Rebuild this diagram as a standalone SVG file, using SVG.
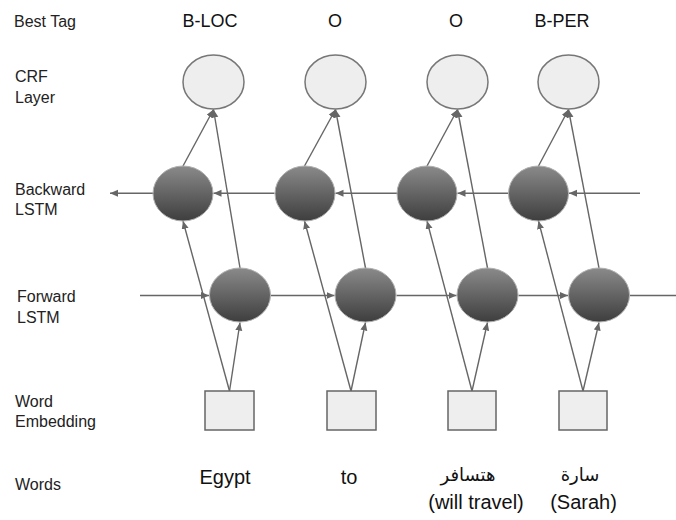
<svg xmlns="http://www.w3.org/2000/svg" width="676" height="520" viewBox="0 0 676 520">
<defs>
<linearGradient id="dark" x1="0" y1="0" x2="0" y2="1">
<stop offset="0" stop-color="#8a8a8a"/>
<stop offset="1" stop-color="#3e3e3e"/>
</linearGradient>
<marker id="ah" markerUnits="userSpaceOnUse" markerWidth="9" markerHeight="8" refX="8" refY="3.5" orient="auto">
<path d="M0,0 L8,3.5 L0,7 z" fill="#666"/>
</marker>
</defs>
<style>
.lbl{font-family:"Liberation Sans",Arial,sans-serif;font-size:16px;fill:#222}
.tag{font-family:"Liberation Sans",Arial,sans-serif;font-size:18px;fill:#111;text-anchor:middle}
.word{font-family:"Liberation Sans","DejaVu Sans",Arial,sans-serif;font-size:20px;fill:#111;text-anchor:middle}
.ar{font-size:18px}
.crf{fill:#eeeeee;stroke:#777;stroke-width:1.5}
.lstm{fill:url(#dark);stroke:#b0b0b0;stroke-width:1}
.emb{fill:#eeeeee;stroke:#666;stroke-width:1.5}
.c line{stroke:#666;stroke-width:1.4}
.c line.a{marker-end:url(#ah)}
</style>
<rect width="676" height="520" fill="#fff"/>

<g id="labels">
<text class="lbl" x="14" y="27">Best Tag</text>
<text class="lbl" x="15" y="82">CRF</text>
<text class="lbl" x="15" y="103">Layer</text>
<text class="lbl" x="15" y="195">Backward</text>
<text class="lbl" x="15" y="215">LSTM</text>
<text class="lbl" x="17" y="302">Forward</text>
<text class="lbl" x="17" y="323">LSTM</text>
<text class="lbl" x="15" y="407">Word</text>
<text class="lbl" x="15" y="427">Embedding</text>
<text class="lbl" x="15" y="490">Words</text>
</g>

<g id="tags">
<text class="tag" x="210" y="27">B-LOC</text>
<text class="tag" x="335" y="27">O</text>
<text class="tag" x="456" y="27">O</text>
<text class="tag" x="562" y="27">B-PER</text>
</g>

<g id="words">
<text class="word" x="225" y="484">Egypt</text>
<text class="word" x="349" y="484">to</text>
<text class="word ar" x="468" y="481" direction="rtl">هتسافر</text>
<text class="word" x="476" y="509">(will travel)</text>
<text class="word ar" x="580" y="481" direction="rtl">سارة</text>
<text class="word" x="583.5" y="509">(Sarah)</text>
</g>

<g class="c" id="connectors">
<line class="a" x1="640" y1="193.3" x2="569" y2="193.3"/>
<line class="a" x1="508" y1="193.3" x2="457.5" y2="193.3"/>
<line class="a" x1="397" y1="193.3" x2="335.5" y2="193.3"/>
<line class="a" x1="274.5" y1="193.3" x2="213.5" y2="193.3"/>
<line class="a" x1="153" y1="193.3" x2="110" y2="193.3"/>
<line class="a" x1="140" y1="295.5" x2="209" y2="295.5"/>
<line class="a" x1="271" y1="295.5" x2="334.5" y2="295.5"/>
<line class="a" x1="396.5" y1="295.5" x2="456.5" y2="295.5"/>
<line class="a" x1="518.5" y1="295.5" x2="568" y2="295.5"/>
<line x1="630" y1="295.5" x2="676" y2="295.5"/>
<line class="a" x1="183" y1="166" x2="213.5" y2="109.5"/>
<line class="a" x1="240" y1="268" x2="213.5" y2="109.5"/>
<line class="a" x1="229.5" y1="391" x2="240" y2="322.5"/>
<line class="a" x1="229.5" y1="391" x2="183" y2="221"/>
<line class="a" x1="304.5" y1="166" x2="335.5" y2="109.5"/>
<line class="a" x1="365.5" y1="268" x2="335.5" y2="109.5"/>
<line class="a" x1="351" y1="391" x2="365.5" y2="322.5"/>
<line class="a" x1="351" y1="391" x2="304.5" y2="221"/>
<line class="a" x1="427" y1="166" x2="457.5" y2="109.5"/>
<line class="a" x1="487.5" y1="268" x2="457.5" y2="109.5"/>
<line class="a" x1="472" y1="391" x2="487.5" y2="322.5"/>
<line class="a" x1="472" y1="391" x2="427" y2="221"/>
<line class="a" x1="538.5" y1="166" x2="568.5" y2="109.5"/>
<line class="a" x1="599" y1="268" x2="568.5" y2="109.5"/>
<line class="a" x1="583" y1="391" x2="599" y2="322.5"/>
<line class="a" x1="583" y1="391" x2="538.5" y2="221"/>
</g>

<g id="crf1"><ellipse class="crf" cx="213.5" cy="82" rx="30.5" ry="27"/></g>
<g id="crf2"><ellipse class="crf" cx="335.5" cy="82" rx="30.5" ry="27"/></g>
<g id="crf3"><ellipse class="crf" cx="457.5" cy="82" rx="30.5" ry="27"/></g>
<g id="crf4"><ellipse class="crf" cx="568.5" cy="82" rx="30.5" ry="27"/></g>

<g id="bw1"><ellipse class="lstm" cx="183" cy="193.5" rx="30" ry="27.5"/></g>
<g id="bw2"><ellipse class="lstm" cx="305" cy="193.5" rx="30" ry="27.5"/></g>
<g id="bw3"><ellipse class="lstm" cx="427" cy="193.5" rx="30" ry="27.5"/></g>
<g id="bw4"><ellipse class="lstm" cx="538.5" cy="193.5" rx="30" ry="27.5"/></g>

<g id="fw1"><ellipse class="lstm" cx="240" cy="295" rx="30.5" ry="27"/></g>
<g id="fw2"><ellipse class="lstm" cx="365.5" cy="295" rx="30.5" ry="27"/></g>
<g id="fw3"><ellipse class="lstm" cx="487.5" cy="295" rx="30.5" ry="27"/></g>
<g id="fw4"><ellipse class="lstm" cx="599" cy="295" rx="30.5" ry="27"/></g>

<g id="emb1"><rect class="emb" x="205" y="391" width="49" height="39"/></g>
<g id="emb2"><rect class="emb" x="327" y="391" width="49" height="39"/></g>
<g id="emb3"><rect class="emb" x="448" y="391" width="48" height="39"/></g>
<g id="emb4"><rect class="emb" x="559" y="391" width="48" height="39"/></g>
</svg>
